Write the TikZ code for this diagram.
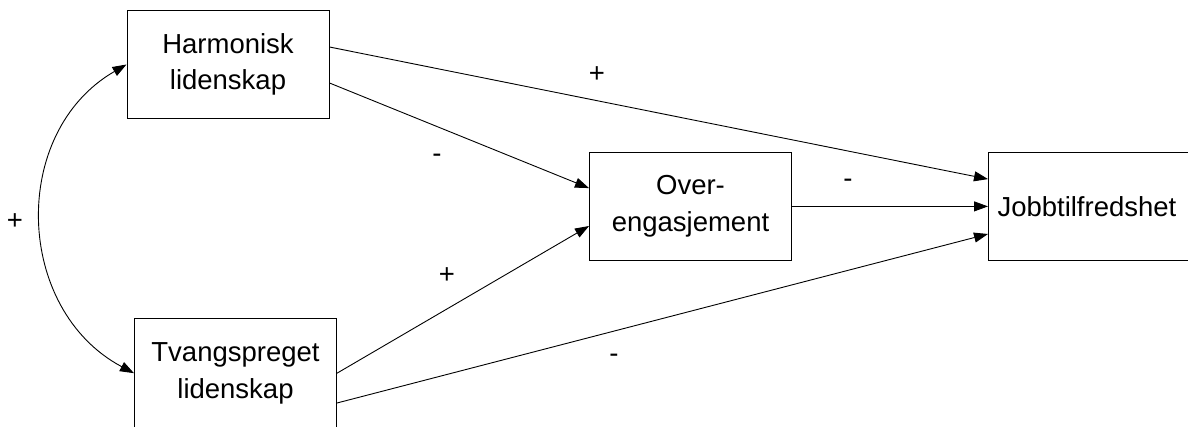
\documentclass[tikz,border=0pt]{standalone}
\usepackage{fontspec}
\setmainfont{Liberation Sans}
\usetikzlibrary{arrows.meta}
\begin{document}
\begin{tikzpicture}[x=1pt,y=1pt,
  every node/.style={font=\fontsize{27.5}{36.5}\selectfont},
  varbox/.style={draw, line width=1pt, minimum width=202pt, minimum height=108.5pt,
    inner sep=0pt, align=center},
  path/.style={line width=0.9pt, -{Triangle[length=14pt,width=10pt]}},
  sign/.style={inner sep=0pt}]
\useasboundingbox (0,0) rectangle (1188,426);
% variables
\node[varbox] (harm)  at (228,361.5)   {Harmonisk\\lidenskap};
\node[varbox] (tvang) at (235.5,52.8)  {Tvangspreget\\lidenskap};
\node[varbox] (over)  at (690.5,219.6) {Over-\\engasjement};
\node[varbox, text width=184pt, align=left] (jobb) at (1089.5,219.6) {Jobbtilfredshet};
% paths
\draw[path] ([yshift=17.5pt]harm.east)  -- ([yshift=27.3pt]jobb.west);
\draw[path] ([yshift=-18.5pt]harm.east) -- ([yshift=18.3pt]over.west);
\draw[path] (over.east) -- (jobb.west);
\draw[path] (tvang.east) -- ([yshift=-19.6pt]over.west);
\draw[path] ([yshift=-29.8pt]tvang.east) -- ([yshift=-27.6pt]jobb.west);
% correlation
\draw[line width=0.9pt, {Triangle[length=14pt,width=10pt]}-{Triangle[length=14pt,width=10pt]}]
  (harm.west) to[out=210, in=152, looseness=1.12] (tvang.west);
% signs
\node[sign] (s1) at (597,351) {+};
\node[sign] (s2) at (437,268) {-};
\node[sign] (s3) at (848,243) {-};
\node[sign] (s4) at (447,150) {+};
\node[sign] (s5) at (614,68)  {-};
\node[sign] (s6) at (15,204)  {+};
\end{tikzpicture}
\end{document}
